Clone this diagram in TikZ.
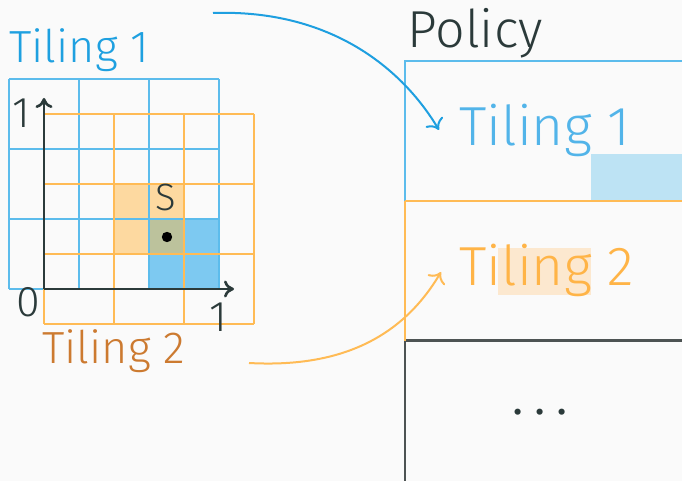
\documentclass[tikz,border=0pt]{standalone}
\usepackage{fontspec}
\setmainfont{Fira Sans}[UprightFont=* Light]
\usetikzlibrary{arrows.meta}

\definecolor{bgc}{HTML}{FAFAFA}
\definecolor{gridblue}{HTML}{5CBCEC}
\definecolor{arrowblue}{HTML}{1E9FE0}
\definecolor{txtblue}{HTML}{1EA0E0}
\definecolor{txtbluelt}{HTML}{52B4E9}
\definecolor{fillblue}{HTML}{7DC9F1}
\definecolor{filloverlap}{HTML}{BCC29C}
\definecolor{fillorange}{HTML}{FDD9A0}
\definecolor{gridorange}{HTML}{FFBB55}
\definecolor{txtbronze}{HTML}{CC7A30}
\definecolor{txtorange}{HTML}{FFB447}
\definecolor{hlorange}{HTML}{FCE8CF}
\definecolor{hlblue}{HTML}{BDE3F4}
\definecolor{darkc}{HTML}{2B3A3A}
\definecolor{boxdark}{HTML}{4D5353}

\tikzset{
  lbl/.style={inner sep=0pt, anchor=base west},
  axlbl/.style={inner sep=0pt, anchor=base, font=\fontsize{21.5}{26}\selectfont, text=darkc},
  bgrid/.style={draw=gridblue, line width=1pt},
  ogrid/.style={draw=gridorange, line width=1pt},
  axis/.style={draw=darkc, line width=1.3pt, -{To[length=5pt,width=8.5pt]}},
  curvearrow/.style={line width=1pt, -{To[length=5pt,width=10pt]}},
}

\begin{document}
\begin{tikzpicture}[x=0.5pt,y=-0.5pt]
  % canvas
  \fill[bgc] (0,0) rectangle (682,481);
  \clip (0,0) rectangle (682,481);

  % active tiles
  \fill[fillorange] (114,184) rectangle (184,254);
  \fill[fillblue] (149,219) rectangle (219,289);
  \fill[filloverlap] (149,219) rectangle (184,254);

  % tiling 1 (blue grid)
  \foreach \v in {9,79,149,219} {
    \draw[bgrid] (\v,79) -- (\v,289);
  }
  \foreach \h in {79,149,219,289} {
    \draw[bgrid] (9,\h) -- (219,\h);
  }
  % tiling 2 (orange grid, offset)
  \foreach \v in {44,114,184,254} {
    \draw[ogrid] (\v,114) -- (\v,324);
  }
  \foreach \h in {114,184,254,324} {
    \draw[ogrid] (44,\h) -- (254,\h);
  }

  % axes
  \coordinate (orig) at (44,289);
  \coordinate (ytop) at (44,98);
  \coordinate (xend) at (234,289);
  \draw[axis] (orig) -- (ytop);
  \draw[axis] (orig) -- (xend);
  \node[axlbl] (ylab) at (21,128) {1};
  \node[axlbl] (olab) at (28,317) {0};
  \node[axlbl] (xlab) at (218,332) {1};

  % state point
  \fill[black] (167,237) circle (2.6pt);
  \node[inner sep=0pt, anchor=base, font=\fontsize{19}{23}\selectfont, text=darkc] (slab) at (166,211) {S};

  % tiling captions
  \node[lbl, font=\fontsize{22.5}{27}\selectfont, text=txtblue] (t1l) at (9,63) {Tiling 1};
  \node[lbl, font=\fontsize{22.5}{27}\selectfont, text=txtbronze] (t2l) at (42,364) {Tiling 2};

  % policy table
  \node[lbl, font=\fontsize{26}{31}\selectfont, text=darkc] (pol) at (407,48) {Policy};
  \fill[hlblue] (591,154) rectangle (700,201);
  \fill[hlorange] (498,248) rectangle (591,295);
  \draw[draw=boxdark, line width=1.5pt] (405,341) -- (700,341);
  \draw[draw=boxdark, line width=1pt] (405,341) -- (405,490);
  \draw[draw=gridorange, line width=1pt] (405,201) -- (405,341);
  \draw[draw=gridblue, line width=1pt] (405,201) -- (405,61) -- (700,61);
  \draw[draw=gridorange, line width=1pt] (405,201) -- (700,201);

  \node[lbl, font=\fontsize{27.5}{33}\selectfont, text=txtbluelt] (t1r) at (459,146) {Tiling 1};
  \node[lbl, font=\fontsize{27.5}{33}\selectfont, text=txtorange] (t2r) at (459,286) {Tiling 2};
  \node[inner sep=0pt, anchor=base, font=\fontsize{32}{38}\selectfont, text=darkc] (dots) at (540,415) {.\hspace{4.5pt}.\hspace{4.5pt}.};

  % mapping arrows
  \coordinate (a1s) at (213,13);
  \coordinate (a1e) at (439,130);
  \coordinate (a2s) at (249,363);
  \coordinate (a2e) at (441,272);
  \draw[curvearrow, draw=arrowblue] (a1s) .. controls (330,9) and (402,68) .. (a1e);
  \draw[curvearrow, draw=gridorange] (a2s) .. controls (340,368) and (402,338) .. (a2e);
\end{tikzpicture}
\end{document}
